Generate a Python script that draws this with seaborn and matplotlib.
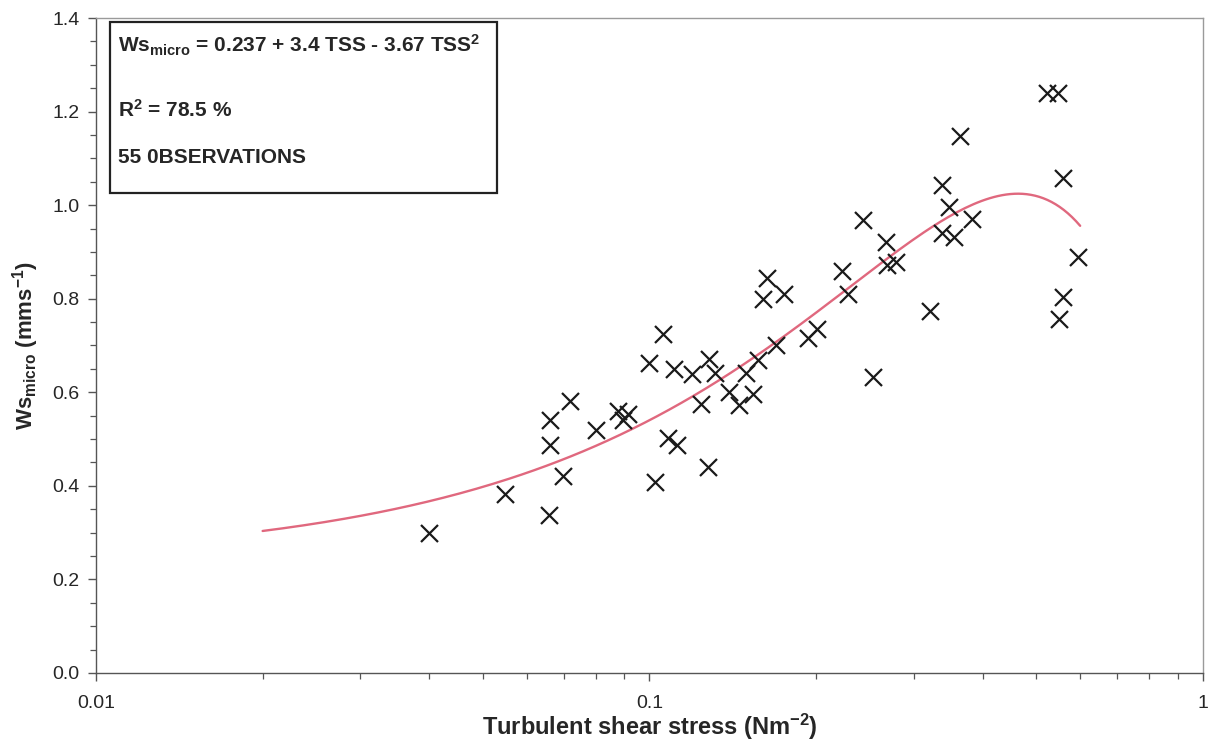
import numpy as np
import pandas as pd
import matplotlib
matplotlib.use("Agg")
import matplotlib.pyplot as plt
from matplotlib.patches import Rectangle
from matplotlib.ticker import FixedLocator, MultipleLocator, NullFormatter, LogLocator
import seaborn as sns

# Measured turbulent shear stress (N m^-2) and microfloc settling velocity (mm s^-1)
tss = [0.0400, 0.0548, 0.0657, 0.0699, 0.0661, 0.0661, 0.0717, 0.0800, 0.0878, 0.0896,
       0.0915, 0.1023, 0.0999, 0.1056, 0.1107, 0.1081, 0.1120, 0.1192, 0.1281, 0.1314,
       0.1239, 0.1277, 0.1394, 0.1453, 0.1536, 0.1494, 0.1573, 0.1693, 0.1633, 0.1606,
       0.1750, 0.1936, 0.2004, 0.2224, 0.2287, 0.2434, 0.2531, 0.2676, 0.2683, 0.2789,
       0.3213, 0.3381, 0.3481, 0.3639, 0.3831, 0.3381, 0.3549, 0.5219, 0.5478, 0.5593,
       0.5953, 0.5593, 0.5501]
ws_micro = [0.300, 0.383, 0.338, 0.422, 0.487, 0.541, 0.581, 0.519, 0.559, 0.541,
            0.553, 0.409, 0.663, 0.725, 0.649, 0.502, 0.487, 0.638, 0.671, 0.641,
            0.576, 0.441, 0.601, 0.573, 0.596, 0.641, 0.668, 0.701, 0.844, 0.799,
            0.811, 0.717, 0.735, 0.860, 0.809, 0.968, 0.633, 0.922, 0.872, 0.879,
            0.774, 1.043, 0.997, 1.148, 0.970, 0.940, 0.931, 1.239, 1.239, 1.059,
            0.890, 0.803, 0.756]

# Quadratic regression: Ws = a + b*TSS + c*TSS^2
fit_coeffs = [0.237, 3.4, -3.67]
fit_range = [0.02, 0.6]

x_ticks = [0.01, 0.1, 1]
x_tick_labels = ["0.01", "0.1", "1"]
y_ticks = [0.0, 0.2, 0.4, 0.6, 0.8, 1.0, 1.2, 1.4]

box_lines = ["Ws$_{\\mathrm{micro}}$ = 0.237 + 3.4 TSS - 3.67 TSS$^{2}$",
             "R$^{2}$ = 78.5 %",
             "55 0BSERVATIONS"]

sns.set_style("white")
plt.rcParams["font.family"] = ["Liberation Sans", "DejaVu Sans"]
plt.rcParams["mathtext.fontset"] = "custom"
plt.rcParams["mathtext.rm"] = "Liberation Sans:bold"
plt.rcParams["mathtext.it"] = "Liberation Sans:bold"
plt.rcParams["mathtext.bf"] = "Liberation Sans:bold"
plt.rcParams["mathtext.default"] = "rm"
plt.rcParams["axes.unicode_minus"] = False

fig = plt.figure(figsize=(12.14, 7.41), dpi=100)
ax = fig.add_axes([0.0791, 0.0918, 0.9118, 0.8839])

obs = pd.DataFrame({"TSS": tss, "Ws": ws_micro})
xs = np.geomspace(fit_range[0], fit_range[1], 200)
a, b, c = fit_coeffs
fit = pd.DataFrame({"TSS": xs, "Ws": a + b * xs + c * xs ** 2})

sns.lineplot(data=fit, x="TSS", y="Ws", ax=ax, color="#e0687e", linewidth=1.7)
sns.scatterplot(data=obs, x="TSS", y="Ws", ax=ax, marker="x", s=150,
                color="#1a1a1a", linewidth=1.6, zorder=3)

ax.set_xscale("log")
ax.set_xlim(0.01, 1)
ax.set_ylim(0, 1.4)
ax.xaxis.set_major_locator(FixedLocator(x_ticks))
ax.set_xticklabels(x_tick_labels)
ax.xaxis.set_minor_locator(LogLocator(base=10, subs=np.arange(2, 10)))
ax.xaxis.set_minor_formatter(NullFormatter())
ax.yaxis.set_major_locator(FixedLocator(y_ticks))
ax.set_yticklabels([f"{v:.1f}" for v in y_ticks])
ax.yaxis.set_minor_locator(MultipleLocator(0.05))

ax.tick_params(axis="both", which="major", direction="out", length=6, width=1,
               color="#555555", labelsize=14, pad=6)
ax.tick_params(axis="both", which="minor", direction="out", length=4, width=0.9,
               color="#555555")
ax.tick_params(axis="x", which="major", pad=10)
ax.tick_params(left=True, bottom=True, which="both")

for side in ["left", "bottom"]:
    ax.spines[side].set_color("#555555")
    ax.spines[side].set_linewidth(1.0)
for side in ["top", "right"]:
    ax.spines[side].set_color("#9a9a9a")
    ax.spines[side].set_linewidth(1.0)

ax.set_xlabel("Turbulent shear stress (Nm$^{-2}$)", fontsize=17, fontweight="bold",
              labelpad=0)
ax.set_ylabel("Ws$_{\\mathrm{micro}}$ (mms$^{-1}$)", fontsize=16, fontweight="bold",
              labelpad=8)

# Regression summary box
ax.add_patch(Rectangle((0.0126, 0.7328), 0.3496, 0.2611, transform=ax.transAxes,
                       facecolor="white", edgecolor="#222222", linewidth=1.6,
                       zorder=4))
for line, ypos in zip(box_lines, [0.9588, 0.8595, 0.7863]):
    ax.text(0.0199, ypos, line, transform=ax.transAxes, fontsize=15,
            fontweight="bold", va="center", ha="left", zorder=5)

fig.savefig("out.png", dpi=100)
